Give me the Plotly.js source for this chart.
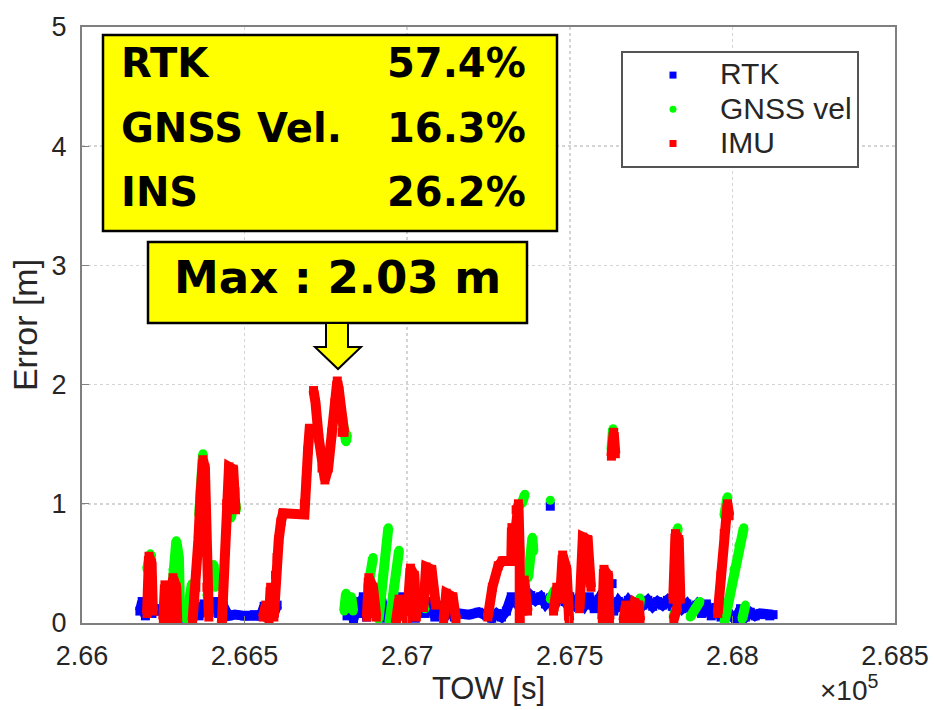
<!DOCTYPE html>
<html><head><meta charset="utf-8">
<script src="https://cdn.plot.ly/plotly-3.0.1.min.js"></script>
<style>body{margin:0;background:#fff}#chart{width:935px;height:710px}</style>
</head><body><div id="chart"></div>
<script>
// ---- data (TOW [s], error [m]) ----
const rtkX = [
 266178,266185,266195,266205,266215,266225,266240,266255,266270,266285,
 266300,266315,266330,266345,266360,266375,266390,266405,266420,266435,
 266450,266470,266500,266530,266550,266560,266570,266580,266590,266600,
 null,
 266815,266825,266835,266845,266855,266865,266875,266890,266905,266920,
 266935,266950,266965,266980,266995,267010,267025,267040,267055,267070,
 267085,267100,267115,267130,267145,267160,267190,267220,267245,267260,
 267275,267290,267305,267320,267335,267350,267365,267380,267395,267410,
 267425,267440,267455,267470,267485,267500,267515,267530,267545,267560,
 267575,267590,267605,267620,267635,267650,267665,267680,267695,267710,
 267725,267740,267755,267770,267785,267800,267815,267830,267845,267860,
 267875,267890,267905,267920,267935,267950,267965,267980,267995,268010,
 268025,268040,268055,268070,268085,268100,268115,268125,
 null, 267440, null, 267630
];
const rtkY = [
 0.10,0.18,0.06,0.14,0.08,0.12,0.10,0.14,0.07,0.13,
 0.04,0.12,0.09,0.15,0.06,0.16,0.10,0.18,0.08,0.14,
 0.06,0.07,0.06,0.07,0.06,0.14,0.05,0.20,0.08,0.15,
 null,
 0.06,0.14,0.03,0.18,0.08,0.22,0.05,0.16,0.08,0.20,
 0.04,0.14,0.10,0.22,0.06,0.16,0.04,0.14,0.08,0.18,
 0.05,0.12,0.06,0.10,0.05,0.08,0.07,0.09,0.06,0.04,
 0.08,0.05,0.10,0.22,0.17,0.25,0.18,0.23,0.19,0.22,
 0.16,0.21,0.17,0.23,0.18,0.22,0.16,0.21,0.15,0.22,
 0.12,0.20,0.14,0.19,0.10,0.18,0.13,0.19,0.14,0.18,
 0.15,0.19,0.14,0.18,0.15,0.19,0.14,0.17,0.12,0.16,
 0.10,0.15,0.08,0.16,0.06,0.13,0.05,0.12,0.06,0.03,
 0.12,0.05,0.09,0.06,0.08,0.07,0.06,0.07,
 null, 0.98, null, 0.33
];
const gnssX = [
 266200,266210,266214,null,
 266270,266280,266290,266298,266302,null,
 266320,266330,266338,null,
 266360,266372,null,
 266385,266395,266405,266410,null,
 266458,266468,266475,null,
 266795,266802,266808,266812,266815,null,
 266806,266812,266820,266828,266834,null,
 266880,266895,null,
 266912,266925,266942,null,
 266945,266958,266975,null,
 267040,267055,null,
 267352,267362,null,
 267372,267378,267385,267388,null,
 267440,null,
 267440,267455,null,
 267628,267633,null,
 267710,267716,null,
 267825,267832,null,
 267818,267828,null,
 267870,267885,267900,null,
 267975,267985,null,
 267975,267990,268005,268020,268035,null,
 268030,268040
];
const gnssY = [
 0.45,0.58,0.55,null,
 0.05,0.45,0.69,0.55,0.05,null,
 0.03,0.20,0.33,null,
 0.90,1.42,null,
 0.22,0.40,0.49,0.30,null,
 0.88,1.05,0.95,null,
 1.80,1.72,1.62,1.52,1.58,null,
 0.10,0.25,0.12,0.22,0.10,null,
 0.30,0.55,null,
 0.03,0.40,0.80,null,
 0.00,0.30,0.61,null,
 0.20,0.12,null,
 1.00,1.08,null,
 0.38,0.55,0.72,0.60,null,
 1.03,null,
 0.20,0.28,null,
 1.45,1.63,null,
 0.05,0.21,null,
 0.65,0.80,null,
 0.05,0.12,null,
 0.05,0.12,0.18,null,
 0.90,1.06,null,
 0.00,0.20,0.45,0.65,0.80,null,
 0.03,0.15
];
const imuX = [
 266200,266206,266214,266218,null,
 266250,266255,266262,266268,null,
 266272,266280,266290,266293,null,
 266340,266350,266358,266365,266372,266378,266380,266384,266390,null,
 266430,266438,266445,266452,266465,266470,266472,null,
 266557,266565,266575,266580,266590,266595,266600,266605,266612,266618,266684,266684,266690,266695,266700,266722,null,
 266712,266718,266728,266738,266747,266757,266768,266778,266785,266790,266795,266800,266806,null,
 266876,266882,266895,266905,null,
 266965,266975,266990,266998,null,
 267000,267010,267022,267028,null,
 267050,267058,267075,267088,null,
 267112,267120,267140,267150,null,
 267248,267262,267280,267292,267320,267322,267322,267330,267335,267342,267346,267346,null,
 267355,267360,267370,null,
 267450,267460,267470,267478,267490,267498,null,
 267530,267540,267555,267565,null,
 267600,267605,267618,267622,null,
 267628,267635,267640,null,
 267665,267672,267680,null,
 267693,267700,267712,267716,null,
 267818,267825,267835,267840,null,
 267820,267830,null,
 267955,267965,267975,267985,267990
];
const imuY = [
 0.08,0.56,0.50,0.10,null,
 0.03,0.32,0.25,0.03,null,
 0.00,0.38,0.30,0.02,null,
 0.02,0.30,0.70,1.10,1.37,1.30,0.80,0.30,0.05,null,
 0.00,0.50,1.00,1.31,1.29,1.10,0.95,null,
 0.05,0.15,0.02,0.30,0.05,0.40,0.55,0.70,0.85,0.92,0.91,1.00,1.20,1.45,1.63,1.63,null,
 1.95,1.85,1.55,1.30,1.20,1.30,1.60,1.85,2.03,1.95,1.75,1.60,1.60,null,
 0.05,0.38,0.30,0.05,null,
 0.00,0.20,0.15,0.02,null,
 0.05,0.46,0.40,0.05,null,
 0.13,0.47,0.45,0.15,null,
 0.03,0.25,0.22,0.03,null,
 0.05,0.30,0.48,0.52,0.52,0.62,0.80,0.70,0.95,1.00,0.60,0.00,null,
 0.10,0.36,0.10,null,
 0.10,0.30,0.20,0.57,0.45,0.02,null,
 0.12,0.72,0.70,0.30,null,
 0.03,0.45,0.40,0.03,null,
 1.40,1.60,1.42,null,
 0.02,0.15,0.03,null,
 0.00,0.17,0.15,0.02,null,
 0.20,0.75,0.70,0.20,null,
 0.03,0.13,null,
 0.08,0.40,0.75,1.00,0.90
];
const seriesNames = ['RTK', 'GNSS vel', 'IMU'];
const xTickVals = [266000, 266500, 267000, 267500, 268000, 268500];
const xTickText = ['2.66', '2.665', '2.67', '2.675', '2.68', '2.685'];
const yTickVals = [0, 1, 2, 3, 4, 5];
const statLabels = ['RTK', 'GNSS Vel.', 'INS'];
const statValues = ['57.4%', '16.3%', '26.2%'];
const maxText = 'Max : 2.03 m';

// ---- traces ----
const colors = ['#0000ff', '#00ff00', '#ff0000'];
const symbols = ['square', 'circle', 'square'];
const xs = [rtkX, gnssX, imuX];
const ys = [rtkY, gnssY, imuY];
const traces = [];
for (let i = 0; i < 3; i++) {
  traces.push({
    type: 'scatter', mode: 'lines+markers', x: xs[i], y: ys[i],
    connectgaps: false, showlegend: false, hoverinfo: 'skip',
    line: {color: colors[i], width: 10},
    marker: {color: colors[i], size: 9, symbol: symbols[i]}
  });
}
for (let i = 0; i < 3; i++) {
  traces.push({
    type: 'scatter', mode: 'markers', x: [null], y: [null],
    name: '<span style="font-size:30px">' + seriesNames[i] + '</span>',
    marker: {color: colors[i], size: 7, symbol: symbols[i]}
  });
}

// ---- layout ----
const L = 82, R = 895, T = 27, B = 623;
const px = v => (v - L) / (R - L);
const py = v => (B - v) / (B - T);
const tickFont = {family: 'Liberation Sans, Arial, sans-serif', size: 27, color: '#262626'};
const titleFont = {family: 'Liberation Sans, Arial, sans-serif', size: 31, color: '#262626'};
const boldFont = s => ({family: 'DejaVu Sans, Verdana, sans-serif', size: s, color: '#000'});

const annotations = [];
const rowY = [63, 127.5, 192.5];
for (let i = 0; i < 3; i++) {
  annotations.push({xref: 'paper', yref: 'paper', x: px(119), y: py(rowY[i]), xanchor: 'left', yanchor: 'middle',
    text: '<b>' + statLabels[i] + '</b>', showarrow: false, font: boldFont(40)});
  annotations.push({xref: 'paper', yref: 'paper', x: px(528), y: py(rowY[i]), xanchor: 'right', yanchor: 'middle',
    text: '<b>' + statValues[i] + '</b>', showarrow: false, font: boldFont(40)});
}
annotations.push({xref: 'paper', yref: 'paper', x: px(337), y: py(277), xanchor: 'center', yanchor: 'middle',
  text: '<b>' + maxText + '</b>', showarrow: false, font: boldFont(45)});
annotations.push({xref: 'paper', yref: 'paper', x: px(818), y: py(688), xanchor: 'left', yanchor: 'middle',
  text: '×10<sup>5</sup>', showarrow: false, font: {family: 'Liberation Sans, Arial, sans-serif', size: 28, color: '#262626'}});

const shapes = [
  {type: 'rect', xref: 'paper', yref: 'paper', x0: px(103), x1: px(557), y0: py(231), y1: py(35),
   fillcolor: '#ffff00', line: {color: '#000', width: 2.5}, layer: 'above'},
  {type: 'rect', xref: 'paper', yref: 'paper', x0: px(148), x1: px(527), y0: py(323), y1: py(242),
   fillcolor: '#ffff00', line: {color: '#000', width: 2.5}, layer: 'above'},
  {type: 'path', xref: 'paper', yref: 'paper',
   path: 'M' + px(326) + ',' + py(323) + ' L' + px(348) + ',' + py(323) + ' L' + px(348) + ',' + py(347) +
         ' L' + px(361) + ',' + py(347) + ' L' + px(338) + ',' + py(369) + ' L' + px(315) + ',' + py(347) +
         ' L' + px(326) + ',' + py(347) + ' Z',
   fillcolor: '#ffff00', line: {color: '#000', width: 2}, layer: 'above'}
];

const axisCommon = {
  showline: true, linecolor: '#7f7f7f', linewidth: 2, mirror: true,
  showgrid: true, gridcolor: '#d4d4d4', griddash: 'dot', gridwidth: 1.5,
  ticks: 'inside', ticklen: 7, tickcolor: '#7f7f7f', tickwidth: 1,
  tickfont: tickFont, zeroline: false, ticklabelstandoff: 8
};

const layout = {
  width: 935, height: 710,
  margin: {l: L, r: 935 - R, t: T, b: 710 - B, pad: 0},
  paper_bgcolor: '#fff', plot_bgcolor: '#fff',
  showlegend: true,
  legend: {x: px(621), y: py(51), xanchor: 'left', yanchor: 'top', bgcolor: '#fff',
    bordercolor: '#555', borderwidth: 2, font: {family: 'Liberation Sans, Arial, sans-serif', size: 24, color: '#262626'},
    indentation: 3, itemwidth: 84, tracegroupgap: 0},
  xaxis: Object.assign({}, axisCommon, {range: [266000, 268500], tickmode: 'array', tickvals: xTickVals, ticktext: xTickText,
    title: {text: 'TOW [s]', font: titleFont, standoff: 4}}),
  yaxis: Object.assign({}, axisCommon, {range: [0, 5], tickmode: 'array', tickvals: yTickVals, ticktext: yTickVals.map(String),
    title: {text: 'Error [m]', font: {family: 'Liberation Sans, Arial, sans-serif', size: 34, color: '#262626'}, standoff: 4}}),
  annotations: annotations,
  shapes: shapes
};

Plotly.newPlot('chart', traces, layout, {staticPlot: true, displayModeBar: false});
</script></body></html>
